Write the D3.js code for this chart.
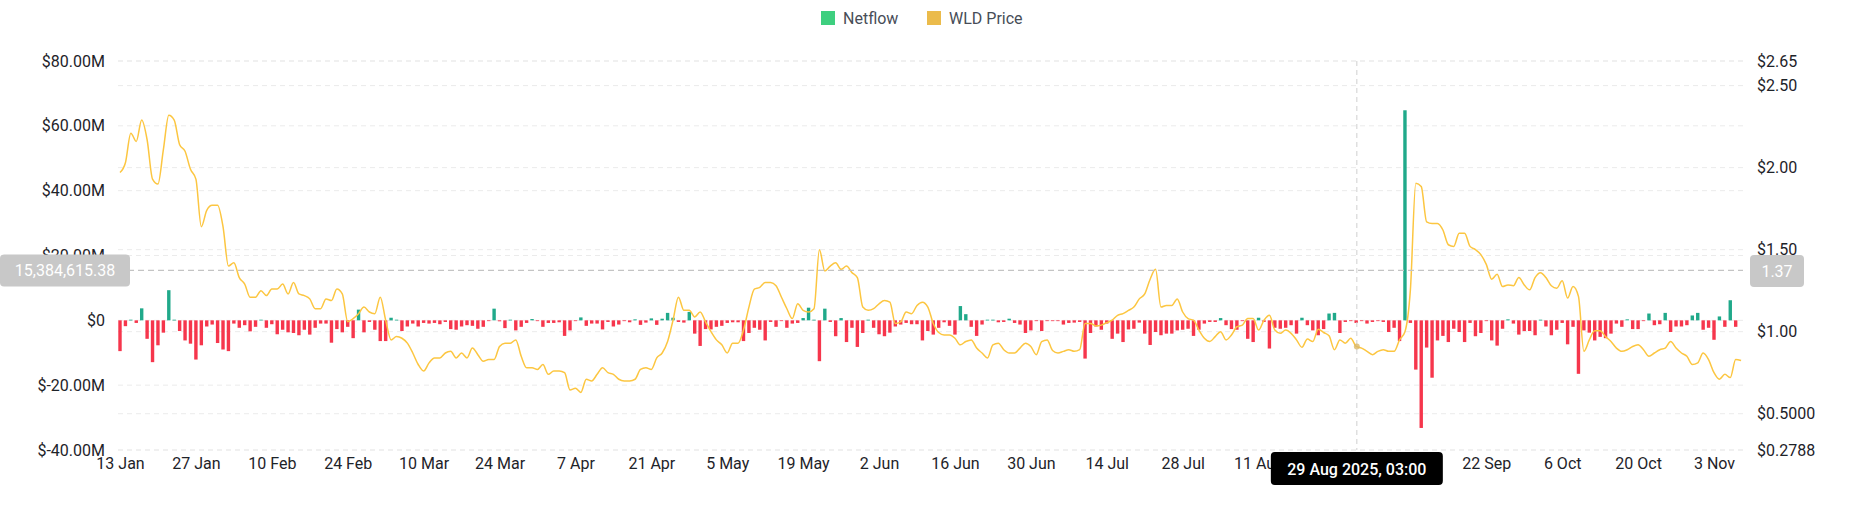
<!DOCTYPE html>
<html>
<head>
<meta charset="utf-8">
<script src="https://cdn.jsdelivr.net/npm/d3@7"></script>
<style>
  body { margin: 0; background: #fff; }
  text { font-family: Roboto, "Noto Sans", sans-serif; }
</style>
</head>
<body>
<div id="chart"></div>
<script>
"use strict";

// daily netflow, $M, starting 13 Jan 2025
const netflow = [
  -9.5,-1.8,0.2,-0.8,3.7,-5.7,-12.9,-7.7,-3.8,9.3, 0.2,-3.3,-6.2,-7.2,-12.1,-7.7,-1.9,-1.3,-7,-9,
  -9.5,-1,-2.3,-1.5,-3.4,-2,0.2,-2.3,-1.2,-4.3, -2.9,-3.7,-3.9,-4.6,-2.9,-4.4,-2.3,-1,-1,-6.9,
  -2.7,-3.7,-2,-5.5,3.3,-3.7,-0.5,-2.9,-6.4,-6.4, 0.8,0.2,-3.3,-1.9,-1,-1.9,-0.8,-1,-0.8,
  -1.2,-0.5,-2.7,-2.9,-1.9,-1.5,-1.7,-2.6,-2,-0.2, 3.6,-0.3,-2.4,0.2,-3.1,-2,-0.8,0.4,-0.2,-2,
  -0.8,-0.8,-0.6,-4.8,-3.1,-0.2,0.9,-1.7,-1,-1, -2.8,-0.5,-1.9,-1.3,-0.2,-0.6,0.3,-1.4,-0.7,0.6,
  -1.4,0.5,2.3,0.8,-0.5,-0.7,2.6,-4.1,-7.9,-2.7, -2.8,-2,-1.7,-0.8,-0.6,-0.6,-6.4,-3.9,-2.3,-2.9,
  -6.2,-0.5,-2,-0.2,-2.3,-1,-0.8,0.7,3.9,0.2, -12.6,3.6,-0.5,-4.9,0.7,-6.7,-2.3,-8.2,-3.9,0.2,
  -2.3,-4.3,-4.9,-3.8,-1.9,-1.3,-0.8,-1.2,-1.2,-6.2, -3.3,-4.4,-2.3,-0.6,-1.7,-4.4,4.4,1.9,-2,-4.8,
  -1.3,0.2,0.2,-0.6,-0.5,0.5,-0.8,-1.3,-3.9,-3.1, -0.2,-3.3,-0.2,-0.2,-0.2,-1.3,-0.8,-0.7,-0.5,-11.8,
  -3.9,-1.9,-2.9,
  -1,-5.7,-4.1,-6.7,-2.8,-2.6,-0.7,-4.1,-7.6,-3.6, -4.6,-4.1,-4.1,-3.1,-2.9,-2.6,-4.8,-2.9,-1,-0.5,
  -0.5,0.7,-1.5,-2.7,-2.9,-0.2,-5.7,-6.7,0.8,-0.5, -8.7,-2.3,-2.6,-2.3,-1.5,-4.1,0.8,-1.5,-3.1,-4.6,
  -2.7,2.1,2.3,-3.9,-0.5,-0.2,-0.8,-0.2,-1,-0.5, -0.2,-0.5,-3.6,-2.3,-6.4,64.8,-0.8,-15.2,-33.2,-8.4,
  -17.7,
  -6.2,-4.8,-6.7,-2.6,-3.6,-6.7,-0.8,-4.9,-3.9,-0.2, -6.2,-7.8,-2.6,0.3,-1,-4.4,-3.3,-3.3,-4.6,0.2,
  -1.9,-4.6,-2.9,-0.8,-7.4,-2,-16.5,-3.1,-3.8,-6.2, -5.1,-5.5,-4.1,-1,-2,0.3,-2.7,-2.7,-0.2,2.1,
  -1.5,-1.2,2.3,-3.6,-1.9,-1.9,-1.5,1.5,2.3,-2.9, -2.3,-6,1.2,-2,6.2,-2
];

// daily WLD price, $
const price = [
  1.97,2.03,2.21,2.16,2.29,2.17,1.93,1.90,2.11,2.32, 2.29,2.14,2.10,1.99,1.93,1.64,1.74,1.77,1.77,1.64,
  1.40,1.42,1.33,1.29,1.21,1.21,1.25,1.22,1.26,1.26, 1.29,1.23,1.30,1.23,1.22,1.20,1.14,1.14,1.20,1.19,
  1.26,1.23,1.06,1.08,1.11,1.15,1.12,1.11,1.21,1.07, 0.95,0.97,0.96,0.93,0.87,0.80,0.76,0.81,0.84,0.84,
  0.87,
  0.88,0.84,0.87,0.84,0.90,0.86,0.82,0.83,0.83, 0.91,0.93,0.93,0.95,0.85,0.78,0.78,0.77,0.80,0.74,
  0.76,0.76,0.75,0.645,0.655,0.63,0.71,0.70,0.74,0.78, 0.75,0.74,0.71,0.70,0.70,0.71,0.77,0.78,0.77,0.84,
  0.87,0.94,1.07,1.21,1.13,1.13,1.09,1.12,1.06,1.00, 0.95,0.92,0.87,0.93,0.93,1.01,1.15,1.26,1.27,1.30,
  1.30,
  1.28,1.21,1.14,1.08,1.17,1.13,1.12,1.14,1.50, 1.37,1.40,1.42,1.38,1.40,1.36,1.33,1.15,1.13,1.14,
  1.17,1.19,1.18,1.05,1.06,1.12,1.11,1.16,1.18,1.15, 1.05,0.995,0.98,0.98,0.96,0.92,0.94,0.95,0.90,0.87,
  0.84,0.92,0.93,0.89,0.87,0.87,0.90,0.93,0.91,0.86, 0.94,0.95,0.885,0.87,0.88,0.89,0.88,0.89,1.05,1.05,
  1.035,1.04,1.055,
  1.07,1.10,1.11,1.13,1.15,1.20,1.23,1.32,1.38, 1.15,1.16,1.16,1.20,1.12,1.08,1.07,1.01,0.96,0.94,
  0.97,1.00,0.95,0.98,1.03,1.04,1.08,1.08,1.01,1.07, 1.10,1.01,0.99,1.01,0.99,0.95,0.905,0.955,0.94,1.015,
  0.995,0.975,0.89,0.95,0.93,0.96,0.91,0.90,0.88,0.86, 0.88,0.89,0.88,0.88,0.95,1.00,1.255,1.905,1.885,1.67,
  1.66,1.66,
  1.62,1.53,1.52,1.60,1.60,1.52, 1.50,1.47,1.41,1.32,1.35,1.275,1.285,1.28,1.33,1.285,
  1.255,1.33,1.36,1.33,1.28,1.265,1.31,1.205,1.275,1.215, 0.88,0.95,1.005,1.005,0.97,0.94,0.90,0.88,0.89,0.91,
  0.92,0.89,0.85,0.87,0.89,0.90,0.94,0.90,0.87,0.85, 0.80,0.81,0.87,0.83,0.75,0.71,0.74,0.72,0.83,0.825
];

const leftTicks = [80, 60, 40, 20, 0, -20, -40];
const leftLabels = ["$80.00M", "$60.00M", "$40.00M", "$20.00M", "$0", "$-20.00M", "$-40.00M"];
const rightTicks = [2.65, 2.5, 2.0, 1.5, 1.0, 0.5, 0.2788];
const rightLabels = ["$2.65", "$2.50", "$2.00", "$1.50", "$1.00", "$0.5000", "$0.2788"];
// 25 Aug and 8 Sep sit under the hover label and are not shown
const xTickDays = [0, 14, 28, 42, 56, 70, 84, 98, 112, 126, 140, 154, 168, 182, 196, 210, 252, 266, 280, 294];
const xTickLabels = ["13 Jan","27 Jan","10 Feb","24 Feb","10 Mar","24 Mar","7 Apr","21 Apr","5 May",
  "19 May","2 Jun","16 Jun","30 Jun","14 Jul","28 Jul","11 Aug","22 Sep","6 Oct","20 Oct","3 Nov"];
const startDate = new Date(Date.UTC(2025, 0, 13));
const hoverDate = new Date(Date.UTC(2025, 7, 29, 3));
const hoverLabel = "29 Aug 2025, 03:00";
const refNetflow = 15.38461538;
const refPrice = 1.37;

const W = 1852, H = 525;
const plotL = 118, plotR = 1743, plotT = 61, plotB = 450;

const svg = d3.select("#chart").append("svg")
  .attr("width", W).attr("height", H);

const dayOf = k => d3.utcDay.offset(startDate, k);

const x = d3.scaleUtc()
  .domain([startDate, d3.utcDay.offset(startDate, 294)])
  .range([120, 1714]);
const yL = d3.scaleLinear().domain([-40, 80]).range([plotB, plotT]);
const yR = d3.scaleLinear().domain([0.2788, 2.65]).range([plotB, plotT]);

// gridlines
const grid = svg.append("g");
grid.selectAll(".gl").data(leftTicks).join("line")
  .attr("x1", plotL).attr("x2", plotR)
  .attr("y1", d => yL(d)).attr("y2", d => yL(d))
  .attr("stroke", "#ebebeb").attr("stroke-dasharray", "5,4");
grid.selectAll(".gr").data(rightTicks).join("line")
  .attr("x1", plotL).attr("x2", plotR)
  .attr("y1", d => yR(d)).attr("y2", d => yR(d))
  .attr("stroke", "#ebebeb").attr("stroke-dasharray", "5,4");

// axis labels
svg.append("g").selectAll("text").data(leftTicks).join("text")
  .attr("x", 105).attr("y", d => yL(d)).attr("dy", "0.35em")
  .attr("text-anchor", "end").attr("font-size", 16).attr("fill", "#1e2329")
  .text((d, i) => leftLabels[i]);
svg.append("g").selectAll("text").data(rightTicks).join("text")
  .attr("x", 1757).attr("y", d => yR(d)).attr("dy", "0.35em")
  .attr("font-size", 16).attr("fill", "#1e2329")
  .text((d, i) => rightLabels[i]);

const xAxis = d3.axisBottom(x)
  .tickValues(xTickDays.map(dayOf))
  .tickFormat((d, i) => xTickLabels[i]).tickSize(0);
svg.append("g").attr("transform", `translate(0,${plotB + 5})`).call(xAxis)
  .call(g => g.select(".domain").remove())
  .selectAll("text").attr("font-size", 16).attr("fill", "#1e2329")
  .attr("font-family", "Roboto, sans-serif");

// bars
const bw = 3.4;
svg.append("g").selectAll("rect").data(netflow).join("rect")
  .attr("x", (d, i) => x(dayOf(i)) - bw / 2)
  .attr("width", bw)
  .attr("y", d => yL(Math.max(0, d)))
  .attr("height", d => Math.max(0.8, Math.abs(yL(d) - yL(0))))
  .attr("fill", d => d >= 0 ? "#20a98a" : "#f6364c");

// price line
svg.append("path").datum(price)
  .attr("fill", "none").attr("stroke", "#fcc641").attr("stroke-width", 1.5)
  .attr("d", d3.line().curve(d3.curveMonotoneX)
    .x((d, i) => x(dayOf(i))).y(d => yR(d)));

// reference line + labels
svg.append("line")
  .attr("x1", plotL).attr("x2", plotR)
  .attr("y1", yL(refNetflow)).attr("y2", yL(refNetflow))
  .attr("stroke", "#c4c4c4").attr("stroke-width", 1.2).attr("stroke-dasharray", "6,4");
svg.append("rect").attr("x", 0).attr("y", yL(refNetflow) - 16).attr("width", 130).attr("height", 32)
  .attr("rx", 4).attr("fill", "#c8c8c8");
svg.append("text").attr("x", 65).attr("y", yL(refNetflow)).attr("dy", "0.35em")
  .attr("text-anchor", "middle").attr("font-size", 16).attr("fill", "#fff")
  .text(d3.format(",.2f")(refNetflow * 1e6));
svg.append("rect").attr("x", 1750).attr("y", yR(refPrice) - 16).attr("width", 54).attr("height", 32)
  .attr("rx", 4).attr("fill", "#c8c8c8");
svg.append("text").attr("x", 1777).attr("y", yR(refPrice)).attr("dy", "0.35em")
  .attr("text-anchor", "middle").attr("font-size", 16).attr("fill", "#fff")
  .text(refPrice.toFixed(2));

// crosshair + tooltip
const hx = x(hoverDate);
svg.append("line").attr("x1", hx).attr("x2", hx).attr("y1", plotT).attr("y2", plotB)
  .attr("stroke", "#cfcfcf").attr("stroke-dasharray", "5,4");
const hk = Math.round((hoverDate - startDate) / 864e5);
svg.append("circle").attr("cx", hx).attr("cy", yR(price[hk])).attr("r", 3)
  .attr("fill", "#d9b86a").attr("opacity", 0.8);
svg.append("rect").attr("x", hx - 86).attr("y", plotB + 2).attr("width", 172).attr("height", 33)
  .attr("rx", 4).attr("fill", "#000");
svg.append("text").attr("x", hx).attr("y", plotB + 19).attr("dy", "0.35em")
  .attr("text-anchor", "middle").attr("font-size", 16).attr("font-weight", 500).attr("fill", "#fff")
  .text(hoverLabel);

// legend
const legend = [["Netflow", "#3ecf7f", 821], ["WLD Price", "#ebbb4b", 927]];
legend.forEach(([name, color, lx]) => {
  svg.append("rect").attr("x", lx).attr("y", 11).attr("width", 14).attr("height", 14).attr("fill", color);
  svg.append("text").attr("x", lx + 22).attr("y", 18).attr("dy", "0.35em")
    .attr("font-size", 16).attr("fill", "#474d57").text(name);
});
</script>
</body>
</html>
